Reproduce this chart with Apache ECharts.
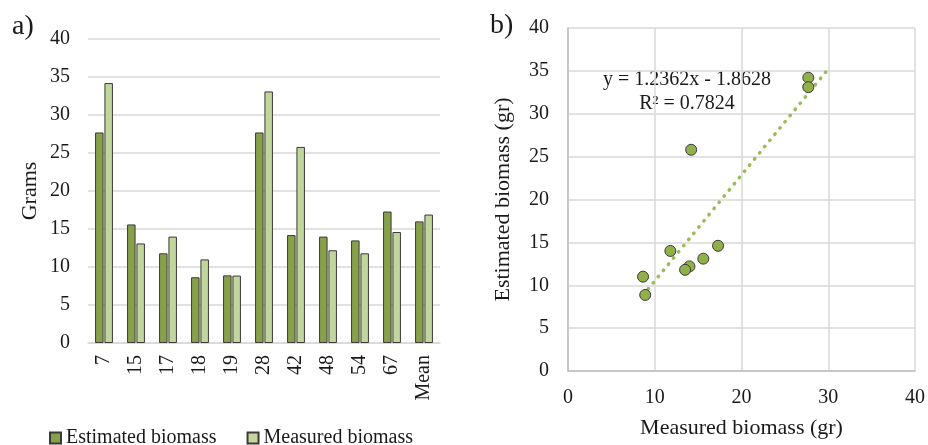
<!DOCTYPE html>
<html>
<head>
<meta charset="utf-8">
<script src="https://cdn.jsdelivr.net/npm/echarts@6/dist/echarts.min.js"></script>
<style>
html,body{margin:0;padding:0;background:#fff;}
#chart{width:928px;height:445px;}
</style>
</head>
<body>
<div id="chart"></div>
<script>
// ---- data ----
const categories = ['7','15','17','18','19','28','42','48','54','67','Mean'];
const estimated = [27.7, 15.6, 11.8, 8.65, 8.9, 27.7, 14.2, 14.0, 13.5, 17.3, 16.0];
const measured  = [34.2, 13.1, 14.0, 11.0, 8.87, 33.1, 25.8, 12.2, 11.8, 14.6, 16.9];
// scatter points (x, y) as plotted in panel b
const scatterPts = [[27.7,34.2],[15.6,13.1],[11.8,14.0],[8.65,11.0],[8.9,8.87],[27.7,33.1],[14.2,25.8],[14.0,12.2],[13.5,11.8],[17.3,14.6]];
// trendline endpoints
const trendPts = [[8.65, 8.83],[30, 35.22]];
const eqText = 'y = 1.2362x - 1.8628';
const r2Text = 'R² = 0.7824';
const leftTicks = [0,5,10,15,20,25,30,35,40];

const FONT = '"Liberation Serif", "Times New Roman", serif';
const TXT = '#1a1a1a';
const GRID = '#d9d9d9';
const EST = '#87a04a';
const MEAS = '#c2d59b';

const chart = echarts.init(document.getElementById('chart'));
chart.setOption({
  animation: false,
  textStyle: {fontFamily: FONT, color: TXT},
  grid: [
    {left: 88, top: 39, width: 352, height: 304},
    {left: 568, top: 28, width: 348, height: 343}
  ],
  legend: {
    left: 44, top: 423,
    icon: 'rect', itemWidth: 11, itemHeight: 11, itemGap: 30,
    textStyle: {fontFamily: FONT, fontSize: 20, color: TXT},
    data: ['Estimated biomass', 'Measured biomass']
  },
  graphic: [
    {type: 'text', left: 12, top: 13, style: {text: 'a)', font: '28px ' + FONT, fill: TXT}},
    {type: 'text', left: 490, top: 12, style: {text: 'b)', font: '28px ' + FONT, fill: TXT}},
    {type: 'text', x: 687, y: 80, style: {text: eqText, font: '20px ' + FONT, fill: TXT, align: 'center', verticalAlign: 'middle'}},
    {type: 'text', x: 687, y: 104, style: {text: r2Text, font: '20px ' + FONT, fill: TXT, align: 'center', verticalAlign: 'middle'}}
  ],
  xAxis: [
    {
      type: 'category', gridIndex: 0, data: categories,
      axisLine: {show: true, lineStyle: {color: GRID, width: 1.5}},
      axisTick: {show: false},
      axisLabel: {rotate: 90, margin: 12, fontSize: 20, color: TXT, fontFamily: FONT}
    },
    {
      type: 'value', gridIndex: 1, min: 0, max: 40, interval: 10,
      name: 'Measured biomass (gr)', nameLocation: 'middle', nameGap: 46,
      nameTextStyle: {fontSize: 22, color: TXT, fontFamily: FONT},
      axisLine: {show: true, lineStyle: {color: '#bfbfbf', width: 1.5}},
      axisTick: {show: false},
      splitLine: {show: true, lineStyle: {color: GRID, width: 1.5}},
      axisLabel: {margin: 17, fontSize: 20, color: TXT, fontFamily: FONT}
    }
  ],
  yAxis: [
    {
      type: 'value', gridIndex: 0, min: 0, max: 40, interval: 5,
      name: 'Grams', nameLocation: 'middle', nameGap: 47,
      nameTextStyle: {fontSize: 22, color: TXT, fontFamily: FONT},
      axisLine: {show: false}, axisTick: {show: false},
      splitLine: {show: true, lineStyle: {color: GRID, width: 1.5}},
      axisLabel: {margin: 18, fontSize: 20, color: TXT, fontFamily: FONT,
        formatter: v => leftTicks.includes(v) ? String(v) : ''}
    },
    {
      type: 'value', gridIndex: 1, min: 0, max: 40, interval: 5,
      name: 'Estimated biomass (gr)', nameLocation: 'middle', nameGap: 54,
      nameTextStyle: {fontSize: 22, color: TXT, fontFamily: FONT},
      axisLine: {show: true, lineStyle: {color: '#bfbfbf', width: 1.5}},
      axisTick: {show: false},
      splitLine: {show: true, lineStyle: {color: GRID, width: 1.5}},
      axisLabel: {margin: 19, fontSize: 20, color: TXT, fontFamily: FONT}
    }
  ],
  series: [
    {
      name: 'Estimated biomass', type: 'bar', xAxisIndex: 0, yAxisIndex: 0,
      data: estimated, barWidth: 8.5, barGap: '10%',
      itemStyle: {color: EST, borderColor: '#3a3a3a', borderWidth: 1}
    },
    {
      name: 'Measured biomass', type: 'bar', xAxisIndex: 0, yAxisIndex: 0,
      data: measured, barWidth: 8.5, barGap: '10%',
      itemStyle: {color: MEAS, borderColor: '#3a3a3a', borderWidth: 1}
    },
    {
      name: 'trend', type: 'line', xAxisIndex: 1, yAxisIndex: 1,
      data: trendPts, symbol: 'none', silent: true,
      lineStyle: {color: '#9bbb59', width: 3.5, type: [0.5, 7.5], cap: 'round'},
      z: 2
    },
    {
      name: 'points', type: 'scatter', xAxisIndex: 1, yAxisIndex: 1,
      data: scatterPts, symbolSize: 11,
      itemStyle: {color: '#92b04a', borderColor: '#3a3a3a', borderWidth: 1, opacity: 1},
      z: 3
    }
  ]
});
</script>
</body>
</html>
